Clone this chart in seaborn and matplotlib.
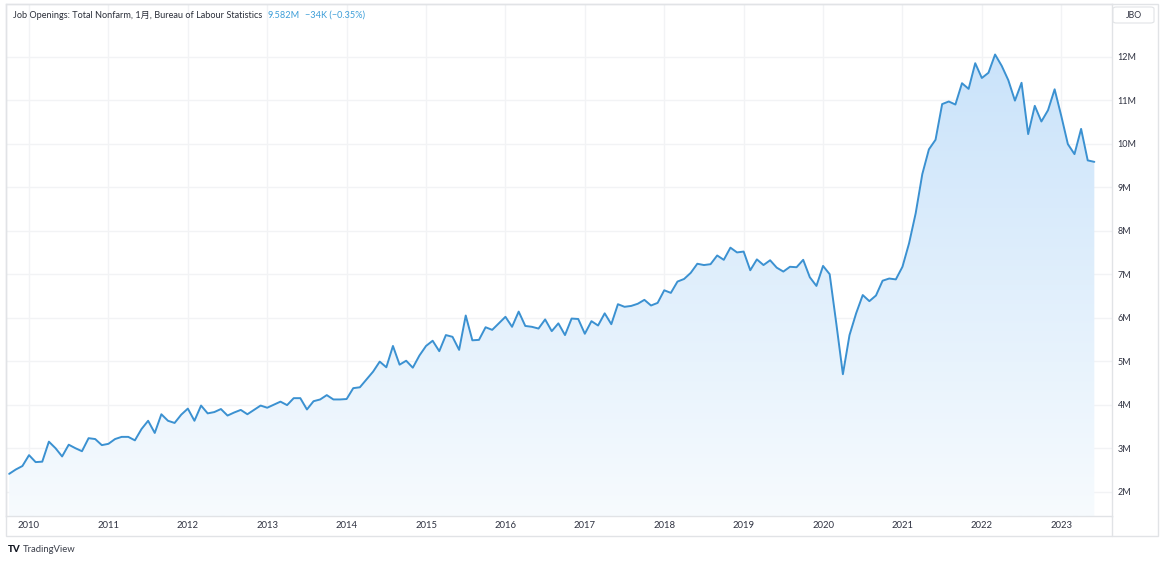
import numpy as np
import pandas as pd
import seaborn as sns
import matplotlib.pyplot as plt
from matplotlib.colors import LinearSegmentedColormap
from matplotlib.lines import Line2D
from matplotlib.patches import Rectangle, FancyBboxPatch

sns.set_theme(style="white", rc={
    "axes.edgecolor": "#e1e3e6",
    "axes.linewidth": 1.0,
    "axes.grid": True,
    "grid.color": "#f2f3f5",
    "grid.linewidth": 1.0,
})
plt.rcParams["font.family"] = ["Lato", "Noto Sans CJK JP", "DejaVu Sans"]

# JOLTS job openings, total nonfarm, millions, monthly from Oct 2009
first_month = "2009-10-01"
jobs_2009 = [2.41, 2.51, 2.59]
jobs_2010 = [2.84, 2.68, 2.69, 3.15, 3.00, 2.81, 3.08, 3.00, 2.93, 3.23, 3.21, 3.07]
jobs_2011 = [3.10, 3.21, 3.26, 3.26, 3.18, 3.44, 3.63, 3.35, 3.78, 3.63, 3.58, 3.77]
jobs_2012 = [3.91, 3.63, 3.98, 3.80, 3.83, 3.90, 3.75, 3.82, 3.88, 3.78, 3.88, 3.98]
jobs_2013 = [3.93, 4.00, 4.07, 3.99, 4.15, 4.15, 3.89, 4.08, 4.12, 4.22, 4.12, 4.12]
jobs_2014 = [4.13, 4.38, 4.40, 4.58, 4.76, 4.99, 4.86, 5.35, 4.92, 5.01, 4.85, 5.13]
jobs_2015 = [5.35, 5.47, 5.23, 5.60, 5.56, 5.26, 6.05, 5.48, 5.49, 5.78, 5.72, 5.87]
jobs_2016 = [6.02, 5.79, 6.14, 5.81, 5.79, 5.75, 5.96, 5.69, 5.87, 5.60, 5.98, 5.97]
jobs_2017 = [5.63, 5.92, 5.82, 6.10, 5.85, 6.31, 6.25, 6.27, 6.32, 6.41, 6.28, 6.34]
jobs_2018 = [6.63, 6.57, 6.83, 6.89, 7.03, 7.24, 7.21, 7.23, 7.43, 7.33, 7.61, 7.50]
jobs_2019 = [7.52, 7.09, 7.34, 7.21, 7.32, 7.15, 7.06, 7.17, 7.16, 7.33, 6.93, 6.73]
jobs_2020 = [7.19, 7.00, 5.87, 4.70, 5.60, 6.10, 6.52, 6.38, 6.51, 6.85, 6.90, 6.88]
jobs_2021 = [7.17, 7.71, 8.40, 9.30, 9.87, 10.09, 10.91, 10.97, 10.90, 11.39, 11.26, 11.85]
jobs_2022 = [11.51, 11.63, 12.05, 11.79, 11.46, 10.99, 11.40, 10.22, 10.87, 10.51, 10.77, 11.25]
jobs_2023 = [10.64, 9.99, 9.76, 10.34, 9.616, 9.582]

price_ticks = [2, 3, 4, 5, 6, 7, 8, 9, 10, 11, 12]
price_labels = [f"{v}M" for v in price_ticks]

jobs = (jobs_2009 + jobs_2010 + jobs_2011 + jobs_2012 + jobs_2013 + jobs_2014
        + jobs_2015 + jobs_2016 + jobs_2017 + jobs_2018 + jobs_2019 + jobs_2020
        + jobs_2021 + jobs_2022 + jobs_2023)
dates = pd.date_range(first_month, periods=len(jobs), freq="MS")
df = pd.DataFrame({"bar": np.arange(len(jobs)), "date": dates, "openings": jobs})

blue = "#3b91d1"
W, H = 1165, 562
fig = plt.figure(figsize=(W / 100, H / 100), dpi=100)
ax = fig.add_axes([6 / W, 46 / H, 1106 / W, 512 / H])

ymin, ymax = 1.441, 13.211

# gradient area under the line
area = ax.fill_between(df["bar"], df["openings"], ymin, color="none", lw=0)
cmap = LinearSegmentedColormap.from_list("area", ["#f7fbfe", "#cae3fa"])
grad = np.linspace(0, 1, 256).reshape(-1, 1)
im = ax.imshow(grad, cmap=cmap, aspect="auto", origin="lower", zorder=1,
               extent=[df["bar"].min(), df["bar"].max(), ymin, df["openings"].max()])
im.set_clip_path(area.get_paths()[0], transform=ax.transData)

sns.lineplot(data=df, x="bar", y="openings", color=blue, linewidth=1.4, ax=ax, zorder=3)

ax.set_xlim(-0.48, 166.67)
ax.set_ylim(ymin, ymax)
ax.set_xlabel("")
ax.set_ylabel("")

year_starts = df[df["date"].dt.month == 1]
ax.set_xticks(year_starts["bar"])
ax.set_xticklabels(year_starts["date"].dt.year.astype(str))
ax.set_yticks(price_ticks)
ax.set_yticklabels(price_labels)
ax.yaxis.tick_right()
ax.tick_params(axis="y", length=0, pad=4, labelsize=6.5, labelcolor="#2f3241")
ax.tick_params(axis="x", length=0, pad=3.5, labelsize=6.8, labelcolor="#2f3241")
ax.grid(True, color="#f2f3f5", lw=1.0)
ax.set_axisbelow(True)

# outer frame, separators and price-scale badge
fig.add_artist(Rectangle((6 / W, 26 / H), 1152 / W, 532 / H, transform=fig.transFigure,
                         fill=False, ec="#e1e3e6", lw=1.0))
fig.add_artist(Line2D([1112 / W, 1112 / W], [26 / H, 46 / H], transform=fig.transFigure,
                      color="#e1e3e6", lw=1.0))
fig.add_artist(FancyBboxPatch((1113 / W, 539 / H), 41 / W, 16 / H, transform=fig.transFigure,
                              boxstyle="round,pad=0,rounding_size=0.003",
                              fc="white", ec="#e1e3e6", lw=0.8))
fig.text(1133.5 / W, 547 / H, "JBO", ha="center", va="center", fontsize=6.3, color="#2f3241")

# legend line at the top left
last = jobs[-1]
change = last - jobs[-2]
t1 = fig.text(13 / W, 1 - 15 / H, "Job Openings: Total Nonfarm, 1月, Bureau of Labour Statistics",
              fontsize=6.6, color="#2a2e39", va="center")
t2 = ax.annotate(f"{last:.3f}M", xy=(1, 0.5), xycoords=t1, xytext=(4, 0),
                 textcoords="offset points", va="center", fontsize=6.6, color="#3d9ed8",
                 annotation_clip=False)
ax.annotate(f"\u2212{abs(change) * 1000:.0f}K (\u2212{abs(change) / jobs[-2] * 100:.2f}%)",
            xy=(1, 0.5), xycoords=t2, xytext=(4, 0), textcoords="offset points",
            va="center", fontsize=6.6, color="#3d9ed8", annotation_clip=False)

# TradingView mark
fig.text(8 / W, 1 - 549 / H, "TV", fontsize=7, fontweight="black", color="#131722", va="center")
fig.text(23 / W, 1 - 549 / H, "TradingView", fontsize=6.8, color="#3b3f4a", va="center")

fig.savefig("out.png", dpi=100, facecolor="white")
